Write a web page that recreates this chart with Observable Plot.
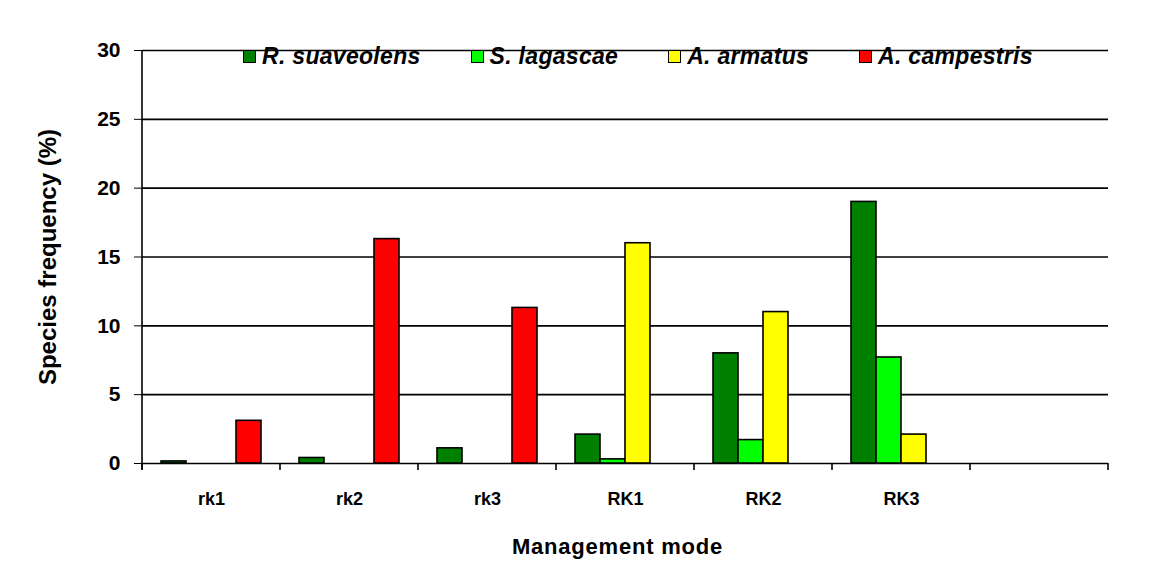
<!DOCTYPE html>
<html><head><meta charset="utf-8">
<script src="https://cdn.jsdelivr.net/npm/d3@7"></script>
<script src="https://cdn.jsdelivr.net/npm/@observablehq/plot@0.6"></script>
<style>
body{margin:0;background:#fff;font-family:"Liberation Sans",Arial,sans-serif;}
#wrap{position:relative;width:1156px;height:588px;}
#legend{position:absolute;top:45px;left:243px;display:flex;gap:50px;align-items:center;font-weight:bold;font-style:italic;font-size:23px;letter-spacing:0.3px;color:#000;line-height:1;}
.item{display:flex;align-items:center;gap:6px}
.sw{width:11px;height:11px;border:1.5px solid #000}
</style></head><body><div id="wrap"><div id="chart"></div><div id="legend"></div></div>
<script>
const categories = ["rk1", "rk2", "rk3", "RK1", "RK2", "RK3", ""];
const series = ["R. suaveolens", "S. lagascae", "A. armatus", "A. campestris"];
const colors = ["#008000", "#00ff00", "#ffff00", "#ff0000"];
const suaveolens = [0.15, 0.4, 1.1, 2.1, 8.0, 19.0, 0];
const lagascae   = [0, 0, 0, 0.3, 1.7, 7.7, 0];
const armatus    = [0, 0, 0, 16.0, 11.0, 2.1, 0];
const campestris = [3.1, 16.3, 11.3, 0, 0, 0, 0];
const yTicks = [0, 5, 10, 15, 20, 25, 30];

const values = [suaveolens, lagascae, armatus, campestris];
const rows = [];
series.forEach((s, i) => categories.forEach((c, j) => rows.push({cat: c, series: s, value: values[i][j]})));
const gridRows = [];
categories.forEach(c => yTicks.forEach(v => gridRows.push({cat: c, v})));

const plot = Plot.plot({
  width: 1156, height: 588,
  marginLeft: 142, marginRight: 48, marginTop: 50, marginBottom: 125,
  style: {fontFamily: '"Liberation Sans", Arial, sans-serif', color: "#000", background: "#fff"},
  fx: {domain: categories, padding: 0, axis: null},
  x: {domain: series, paddingInner: 0, paddingOuter: 0.7, axis: null},
  y: {domain: [0, 30], axis: null},
  color: {domain: series, range: colors},
  marks: [
    Plot.ruleY(gridRows, {fx: "cat", y: "v", stroke: "#000", strokeWidth: 1.6}),
    Plot.barY(rows.filter(d => d.value > 0), {fx: "cat", x: "series", y: "value", fill: "series", stroke: "#000", strokeWidth: 1.6}),
    Plot.axisY({ticks: yTicks, tickSize: 8, tickPadding: 14, fontSize: 21, fontWeight: "bold",
      label: "Species frequency (%)", labelAnchor: "center", labelArrow: "none", labelOffset: 104}),
    Plot.axisFx({anchor: "bottom", tickSize: 0, tickPadding: 29, fontSize: 18, fontWeight: "bold",
      label: "Management mode", labelAnchor: "center", labelArrow: "none", labelOffset: 90})
  ]
});
document.getElementById("chart").appendChild(plot);

// boundary ticks and axis line from the library's scales
const fx = plot.scale("fx"), y = plot.scale("y");
const svg = d3.select(plot);
const y0 = y.apply(0), yTop = y.apply(30);
const edges = categories.map(c => fx.apply(c));
edges.push(fx.apply(categories[categories.length - 1]) + fx.step);
svg.append("g").selectAll("line").data(edges).join("line")
  .attr("x1", d => d).attr("x2", d => d).attr("y1", y0).attr("y2", y0 + 7)
  .attr("stroke", "#000").attr("stroke-width", 1.6);
svg.append("line").attr("x1", edges[0]).attr("x2", edges[0]).attr("y1", yTop).attr("y2", y0 + 7)
  .attr("stroke", "#000").attr("stroke-width", 1.6);

// style axis label fonts
svg.selectAll("[aria-label='y-axis label'] text").style("font-size", "24px").style("font-weight", "bold");
svg.selectAll("[aria-label='fx-axis label']").each(function() {
  const g = d3.select(this);
  g.attr("transform", (g.attr("transform") || "") + " translate(-8,0)");
});
svg.selectAll("[aria-label='fx-axis label'] text").style("font-size", "22px").style("font-weight", "bold").style("letter-spacing", "0.8px");

// legend
const legend = d3.select("#legend");
series.forEach((s, i) => {
  const it = legend.append("div").attr("class", "item");
  it.append("div").attr("class", "sw").style("background", colors[i]);
  it.append("span").text(s);
});
</script></body></html>
